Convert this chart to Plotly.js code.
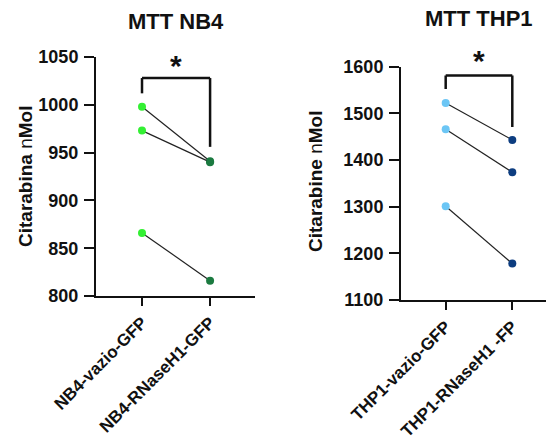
<!DOCTYPE html>
<html>
<head>
<meta charset="utf-8">
<script src="https://cdn.plot.ly/plotly-3.0.1.min.js"></script>
<style>
  html, body { margin: 0; padding: 0; background: #fff; }
  #chart { width: 547px; height: 441px; }
</style>
</head>
<body>
<div id="chart"></div>
<script>
// ---------- data ----------
const nb4Categories = ["NB4-vazio-GFP", "NB4-RNaseH1-GFP"];
const nb4Vazio = [998, 973, 866];
const nb4RNase = [941, 940, 816];

const thp1Categories = ["THP1-vazio-GFP", "THP1-RNaseH1 -FP"];
const thp1Vazio = [1522, 1466, 1301];
const thp1RNase = [1443, 1374, 1178];

const nb4Ticks = [800, 850, 900, 950, 1000, 1050];
const thp1Ticks = [1100, 1200, 1300, 1400, 1500, 1600];

// significance bracket levels: [top, left leg end, right leg end]
const nb4Bracket = [1028, 1012, 956];
const thp1Bracket = [1581, 1552, 1471];

const nb4Colors = ["#33f033", "#1b7a40"];
const thp1Colors = ["#6cc6f5", "#0d3d80"];

// ---------- layout helpers ----------
const W = 547, H = 441;
const FONT = "Liberation Sans, Arial, sans-serif";

const traces = [];
function addPairs(vals1, vals2, cats, colors, xa, ya) {
  for (let i = 0; i < vals1.length; i++) {
    traces.push({
      type: "scatter",
      mode: "lines+markers",
      x: cats,
      y: [vals1[i], vals2[i]],
      xaxis: xa, yaxis: ya,
      line: { color: "#222", width: 1.2 },
      marker: { size: 8, color: colors, line: { width: 0 } },
      showlegend: false,
      hoverinfo: "x+y"
    });
  }
}
addPairs(nb4Vazio, nb4RNase, nb4Categories, nb4Colors, "x", "y");
addPairs(thp1Vazio, thp1RNase, thp1Categories, thp1Colors, "x2", "y2");

function yAxis(domainY, ticks, anchor) {
  return {
    domain: domainY,
    anchor: anchor,
    range: [ticks[0], ticks[ticks.length - 1]],
    tickvals: ticks,
    ticks: "outside", ticklen: 10, tickwidth: 2, tickcolor: "#111",
    showline: true, linewidth: 2, linecolor: "#111",
    showgrid: false, zeroline: false,
    tickfont: { family: FONT, size: 18, color: "#111", weight: "bold" },
    ticklabelstandoff: 2
  };
}
function xAxis(domainX, cats, range, anchor) {
  return {
    domain: domainX,
    anchor: anchor,
    type: "category",
    categoryarray: cats,
    range: range,
    ticks: "outside", ticklen: 8, tickwidth: 2, tickcolor: "#111",
    showline: true, linewidth: 2, linecolor: "#111",
    showgrid: false, zeroline: false,
    tickangle: -45,
    tickfont: { family: FONT, size: 17, color: "#111", weight: "bold" }
  };
}

const layout = {
  width: W, height: H,
  margin: { l: 0, r: 0, t: 0, b: 0 },
  paper_bgcolor: "#fff", plot_bgcolor: "#fff",
  font: { family: FONT, color: "#111" },
  xaxis: xAxis([96 / W, 255 / W], nb4Categories, [-0.676, 1.66], "y"),
  yaxis: yAxis([1 - 296 / H, 1 - 57 / H], nb4Ticks, "x"),
  xaxis2: xAxis([401 / W, 546 / W], thp1Categories, [-0.671, 1.506], "y2"),
  yaxis2: yAxis([1 - 300 / H, 1 - 66.7 / H], thp1Ticks, "x2"),
  shapes: [],
  annotations: [
    { text: "<b>MTT NB4</b>", xref: "paper", yref: "paper", x: 176 / W, y: 1 - 21 / H,
      xanchor: "center", yanchor: "middle", showarrow: false,
      font: { family: FONT, size: 22, color: "#111" } },
    { text: "<b>MTT THP1</b>", xref: "paper", yref: "paper", x: 479 / W, y: 1 - 19 / H,
      xanchor: "center", yanchor: "middle", showarrow: false,
      font: { family: FONT, size: 22, color: "#111" } },
    { text: "<b>Citarabina </b><span style='font-weight:normal'>n</span><b>Mol</b>",
      xref: "paper", yref: "paper", x: 25 / W, y: 1 - 176 / H,
      xanchor: "center", yanchor: "middle", textangle: -90, showarrow: false,
      font: { family: FONT, size: 19, color: "#111" } },
    { text: "<b>Citarabine </b><span style='font-weight:normal'>n</span><b>Mol</b>",
      xref: "paper", yref: "paper", x: 316 / W, y: 1 - 181 / H,
      xanchor: "center", yanchor: "middle", textangle: -90, showarrow: false,
      font: { family: FONT, size: 19, color: "#111" } },
    { text: "<b>*</b>", xref: "paper", yref: "paper", x: 176 / W, y: 1 - 66 / H,
      xanchor: "center", yanchor: "middle", showarrow: false,
      font: { family: FONT, size: 30, color: "#111" } },
    { text: "<b>*</b>", xref: "paper", yref: "paper", x: 479 / W, y: 1 - 61 / H,
      xanchor: "center", yanchor: "middle", showarrow: false,
      font: { family: FONT, size: 30, color: "#111" } }
  ]
};

// brackets as line segments in data coordinates (category index positions)
function bracketLines(xref, yref, b) {
  const segs = [
    [0, b[1], 0, b[0]],
    [0, b[0], 1, b[0]],
    [1, b[0], 1, b[2]]
  ];
  segs.forEach(s => layout.shapes.push({
    type: "line", xref: xref, yref: yref,
    x0: s[0], y0: s[1], x1: s[2], y1: s[3],
    line: { color: "#111", width: 2.5 }
  }));
}
bracketLines("x", "y", nb4Bracket);
bracketLines("x2", "y2", thp1Bracket);

Plotly.newPlot("chart", traces, layout, { displayModeBar: false, staticPlot: true });
</script>
</body>
</html>
